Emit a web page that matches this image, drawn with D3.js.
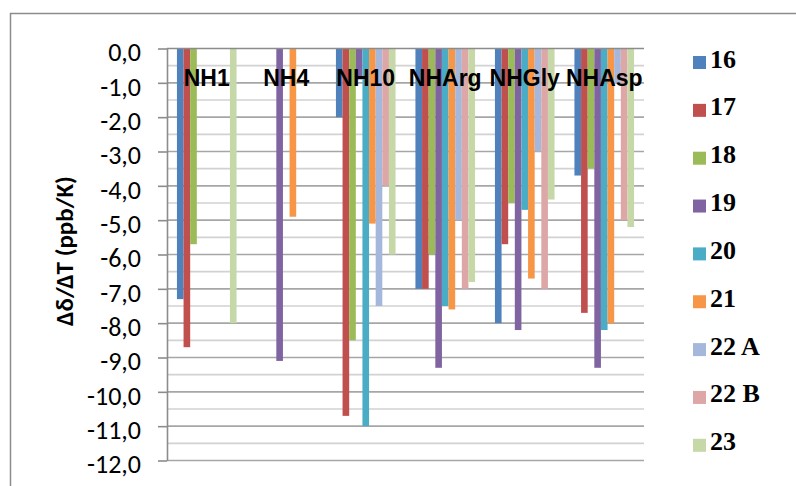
<!DOCTYPE html>
<html>
<head>
<meta charset="utf-8">
<script src="https://cdn.jsdelivr.net/npm/d3@7/dist/d3.min.js"></script>
<style>
  html, body { margin: 0; padding: 0; background: #ffffff; }
  svg { display: block; }
</style>
</head>
<body>
<svg id="chart" width="796" height="486"></svg>
<script>
// Temperature coefficients of amide NH protons (ppb/K), per compound
const categories = ["NH1", "NH4", "NH10", "NHArg", "NHGly", "NHAsp"];
const seriesNames = ["16", "17", "18", "19", "20", "21", "22 A", "22 B", "23"];

const s16  = [-7.3,  0.0,  -2.0, -7.0, -8.0, -3.7];
const s17  = [-8.7,  0.0, -10.7, -7.0, -5.7, -7.7];
const s18  = [-5.7,  0.0,  -8.5, -6.0, -4.5, -3.5];
const s19  = [ 0.0, -9.1,  -0.9, -9.3, -8.2, -9.3];
const s20  = [ 0.0,  0.0, -11.0, -7.5, -4.7, -8.2];
const s21  = [ 0.0, -4.9,  -5.1, -7.6, -6.7, -8.0];
const s22A = [ 0.0,  0.0,  -7.5, -5.0, -3.0, -1.0];
const s22B = [ 0.0,  0.0,  -4.0, -7.0, -7.0, -5.0];
const s23  = [-8.0,  0.0,  -6.0, -6.8, -4.4, -5.2];

const seriesValues = [s16, s17, s18, s19, s20, s21, s22A, s22B, s23];
const seriesColors = ["#4f81bd", "#c0504d", "#9bbb59", "#8064a2", "#4bacc6",
                      "#f79646", "#a5b8dc", "#dca7a6", "#c6d8a8"];

const yTicks = [0, -1, -2, -3, -4, -5, -6, -7, -8, -9, -10, -11, -12];

const svg = d3.select("#chart");

// outer chart frame
svg.append("rect")
  .attr("x", 10.5).attr("y", 13.5)
  .attr("width", 800).attr("height", 500)
  .attr("fill", "none").attr("stroke", "#8c8c8c").attr("stroke-width", 1.5);

const plot = { left: 167, right: 644, top: 48.5, bottom: 460.5 };

const y = d3.scaleLinear().domain([0, -12]).range([plot.top, plot.bottom]);
const x0 = d3.scaleBand().domain(categories).range([plot.left, plot.right]);
const x1 = d3.scaleBand().domain(seriesNames).range([0, x0.bandwidth()])
  .paddingInner(0).paddingOuter(1.5);

// gridlines: major every unit, minor every half unit
const gridVals = d3.range(0, -12.01, -0.5);
svg.append("g").selectAll("line")
  .data(gridVals.filter(v => Math.abs(v % 1) > 0.01))
  .join("line")
  .attr("x1", plot.left).attr("x2", plot.right)
  .attr("y1", d => y(d)).attr("y2", d => y(d))
  .attr("stroke", "#d2d2d2").attr("stroke-width", 1.6);
svg.append("g").selectAll("line")
  .data(yTicks.slice(1))
  .join("line")
  .attr("x1", plot.left).attr("x2", plot.right)
  .attr("y1", d => y(d)).attr("y2", d => y(d))
  .attr("stroke", "#a6a6a6").attr("stroke-width", 1.6);

// bars
const rows = [];
categories.forEach((c, ci) => {
  seriesNames.forEach((s, si) => {
    rows.push({ cat: c, series: s, value: seriesValues[si][ci], color: seriesColors[si] });
  });
});

svg.append("g").selectAll("rect")
  .data(rows.filter(d => d.value !== 0))
  .join("rect")
  .attr("x", d => x0(d.cat) + x1(d.series))
  .attr("width", x1.bandwidth())
  .attr("y", y(0))
  .attr("height", d => y(d.value) - y(0))
  .attr("fill", d => d.color);

// category axis along zero
svg.append("line")
  .attr("x1", plot.left).attr("x2", plot.right)
  .attr("y1", y(0)).attr("y2", y(0))
  .attr("stroke", "#8c8c8c").attr("stroke-width", 1.6);

// value axis
const locale = d3.formatLocale({ decimal: ",", thousands: ".", grouping: [3], currency: ["", ""], minus: "-" });
const fmt = locale.format(".1f");
const yAxis = svg.append("g")
  .attr("transform", `translate(${plot.left},0)`)
  .call(d3.axisLeft(y).tickValues(yTicks).tickFormat(fmt).tickSize(9).tickSizeOuter(0));
yAxis.select(".domain").attr("stroke", "#8c8c8c").attr("stroke-width", 1.6);
yAxis.selectAll(".tick line").attr("stroke", "#8c8c8c").attr("stroke-width", 1.6);
yAxis.selectAll(".tick text")
  .attr("x", -26)
  .attr("y", 4)
  .attr("dy", "0.32em")
  .attr("fill", "#000")
  .style("font-family", "Carlito, Lato, 'Open Sans', sans-serif")
  .style("font-size", "26px");

// axis title
svg.append("text")
  .attr("transform", `translate(73,251) rotate(-90)`)
  .attr("text-anchor", "middle")
  .style("font-family", "Carlito, Lato, 'Liberation Sans', sans-serif")
  .style("font-weight", "bold")
  .style("font-size", "25px")
  .text("Δδ/ΔT (ppb/K)");

// category labels near the zero line
svg.append("g").selectAll("text")
  .data(categories)
  .join("text")
  .attr("x", d => x0(d) + x0.bandwidth() / 2)
  .attr("y", 86)
  .attr("text-anchor", "middle")
  .style("font-family", "'Liberation Sans', Arial, sans-serif")
  .style("font-weight", "bold")
  .style("font-size", "23px")
  .text(d => d);

// legend
const legend = svg.append("g").selectAll("g")
  .data(seriesNames)
  .join("g")
  .attr("transform", (d, i) => `translate(693,${56 + i * 47.85})`);
legend.append("rect")
  .attr("width", 13).attr("height", 13)
  .attr("fill", (d, i) => seriesColors[i]);
legend.append("text")
  .attr("x", 17).attr("y", 11.5)
  .style("font-family", "'Liberation Serif', 'Times New Roman', serif")
  .style("font-weight", "bold")
  .style("font-size", "26px")
  .text(d => d);
</script>
</body>
</html>
